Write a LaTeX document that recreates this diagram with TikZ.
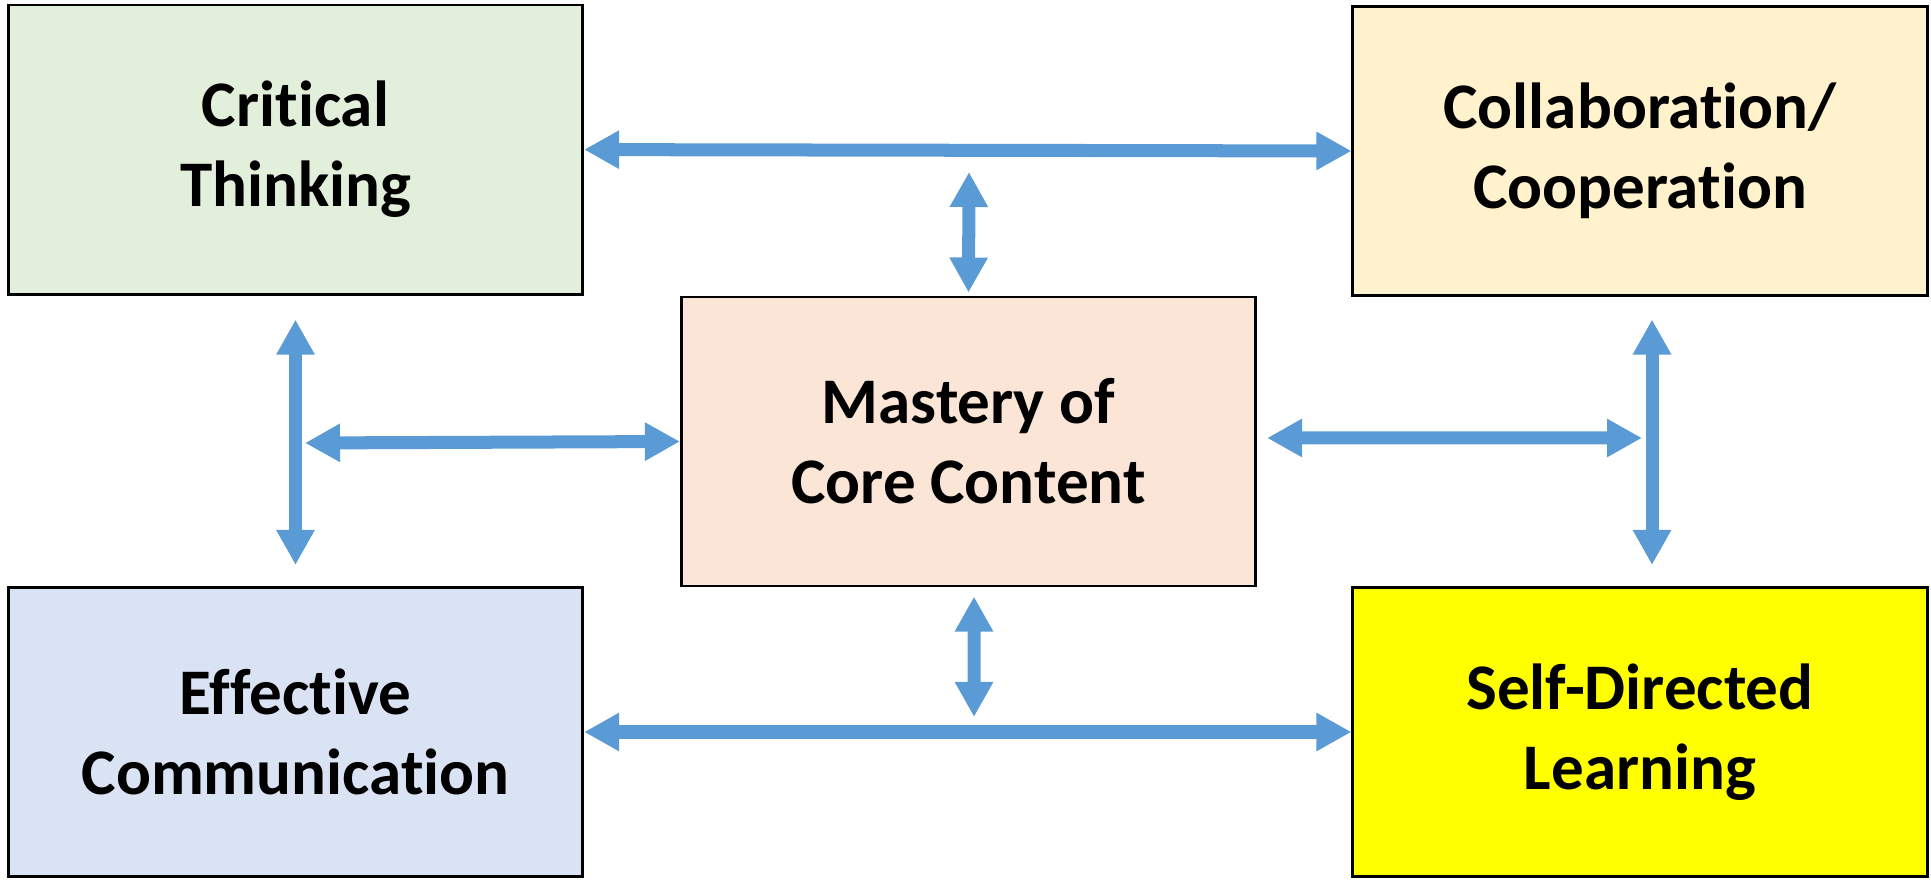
\documentclass[tikz,border=0pt]{standalone}
\usepackage{fontspec}
\setmainfont{Carlito}[Ligatures=NoCommon]
\usetikzlibrary{arrows.meta}
\definecolor{thinkgreen}{HTML}{E2EFDA}
\definecolor{collabcream}{HTML}{FFF2CC}
\definecolor{masterypeach}{HTML}{FBE5D6}
\definecolor{commblue}{HTML}{DAE3F3}
\definecolor{selfyellow}{HTML}{FFFF00}
\definecolor{linkblue}{HTML}{5B9BD5}
\tikzset{
  skill/.style={draw=black, line width=0.8pt, minimum width=5.74cm, minimum height=2.89cm,
    inner sep=0pt, align=center, font=\fontsize{18.5}{22.8}\selectfont\bfseries},
  link/.style={draw=linkblue, line width=0.13cm,
    {Triangle[length=0.35cm,width=0.36cm]}-{Triangle[length=0.35cm,width=0.36cm]}}
}
\begin{document}
\begin{tikzpicture}[x=0.01cm, y=-0.01cm]
            \useasboundingbox (0,0) rectangle (1931,880);
            \node[skill, fill=thinkgreen] (critical) at (295.5, 149.6) {Critical\\Thinking};
            \node[skill, fill=collabcream] (collab) at (1640, 151) {Collaboration/\\Cooperation};
            \node[skill, fill=masterypeach] (mastery) at (968.5, 441.5) {Mastery of\\Core Content};
            \node[skill, fill=commblue] (comm) at (295.5, 732) {Effective\\Communication};
            \node[skill, fill=selfyellow] (selfdir) at (1640, 732) {Self-Directed\\Learning};
            \coordinate (topend) at (969, 172);
            \coordinate (lowend) at (974, 717);
            \coordinate (leftend) at (305, 443);
            \coordinate (rightend) at (1642, 438);
            \draw[link] (critical.east) -- (collab.west);
            \draw[link] (comm.east) -- (selfdir.west);
            \draw[link] (topend) -- ([yshift=0.03cm]mastery.north);
            \draw[link] ([xshift=0.055cm, yshift=-0.09cm]mastery.south) -- (lowend);
            \draw[link] (leftend) -- (mastery.west);
            \draw[link] ([xshift=0.1cm, yshift=0.035cm]mastery.east) -- (rightend);
            \draw[link] ([yshift=-0.24cm]critical.south) -- ([yshift=0.21cm]comm.north);
            \draw[link] ([xshift=0.12cm, yshift=-0.225cm]collab.south) -- ([xshift=0.12cm, yshift=0.21cm]selfdir.north);
\end{tikzpicture}
\end{document}
